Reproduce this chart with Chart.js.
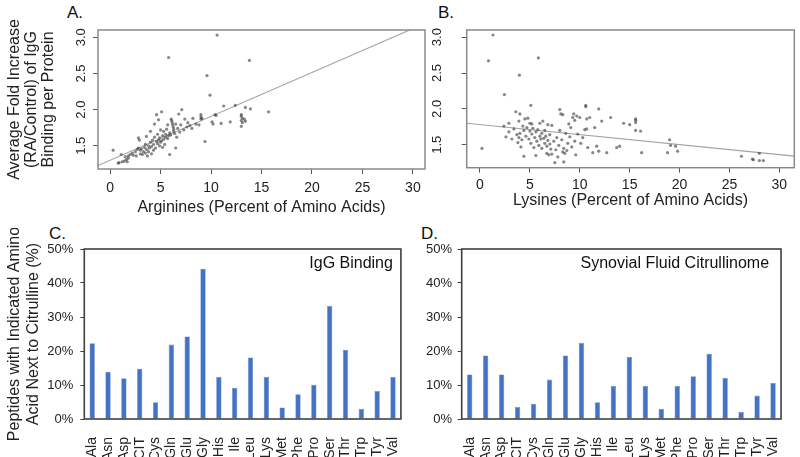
<!DOCTYPE html>
<html>
<head>
<meta charset="utf-8">
<script src="https://cdn.jsdelivr.net/npm/chart.js@4.4.1/dist/chart.umd.min.js"></script>
<style>
  body { margin: 0; background: #fff; width: 800px; height: 457px; position: relative; overflow: hidden;
         font-family: 'Liberation Sans', Arial, sans-serif; }
  canvas { position: absolute; }
  .tag { position: absolute; font-size: 17px; line-height: 1; color: #111; }
</style>
</head>
<body>
<div class="tag" style="left:67px;top:4px">A.</div>
<div class="tag" style="left:438px;top:4px">B.</div>
<div class="tag" style="left:49px;top:225px">C.</div>
<div class="tag" style="left:421px;top:225px">D.</div>

<canvas id="chartA" width="432" height="218" style="left:0;top:0"></canvas>
<canvas id="chartB" width="368" height="218" style="left:432px;top:0"></canvas>
<canvas id="chartC" width="420" height="229" style="left:0;top:228px"></canvas>
<canvas id="chartD" width="380" height="229" style="left:420px;top:228px"></canvas>

<script>
// ---- data ----

// A: arginine content (%) vs average fold increase of IgG binding
const argPoints = [
  [0.3,1.44],[0.8,1.26],[0.9,1.27],[1.1,1.38],[1.2,1.28],[1.4,1.29],[1.5,1.35],[1.6,1.31],[1.7,1.28],[1.8,1.33],
  [1.8,1.36],[2.0,1.38],[2.2,1.40],[2.3,1.37],[2.5,1.42],[2.6,1.36],[2.7,1.45],[2.8,1.47],[2.8,1.61],[2.9,1.58],
  [3.0,1.39],[3.0,1.44],[3.1,1.46],[3.2,1.38],[3.3,1.42],[3.4,1.48],[3.5,1.40],[3.5,1.52],[3.6,1.45],[3.6,1.63],
  [3.7,1.36],[3.8,1.50],[3.8,1.42],[3.9,1.47],[4.0,1.55],[4.0,1.70],[4.1,1.39],[4.1,1.49],[4.2,1.58],[4.3,1.52],
  [4.3,1.44],[4.4,1.62],[4.4,1.80],[4.5,1.47],[4.6,1.56],[4.6,1.93],[4.7,1.53],[4.7,1.66],[4.8,1.58],[4.8,1.86],
  [4.9,1.50],[4.9,1.61],[5.0,1.55],[5.0,1.72],[5.1,1.97],[5.1,1.57],[5.2,1.48],[5.2,1.64],[5.3,1.70],[5.3,1.59],
  [5.4,1.52],[5.5,1.66],[5.5,1.62],[5.6,1.73],[5.7,1.79],[5.7,1.60],[5.8,2.72],[5.8,1.64],[5.9,1.38],[5.9,1.68],
  [6.0,1.65],[6.05,1.87],[6.1,1.85],[6.15,1.82],[6.2,1.79],[6.25,1.76],[6.3,1.73],[6.3,1.70],[6.4,1.67],[6.5,1.47],
  [6.5,1.80],[6.6,1.62],[6.7,1.74],[6.8,1.94],[6.9,1.69],[7.0,1.79],[7.1,2.00],[7.3,1.72],[7.4,1.87],[7.6,1.76],
  [7.7,1.82],[7.9,1.78],[8.1,1.74],[8.2,1.88],[8.5,1.80],[8.8,1.79],[9.0,1.93],[9.0,1.90],[9.0,1.87],[9.1,1.88],
  [9.4,1.56],[9.6,2.47],[9.9,2.20],[10.1,1.83],[10.2,1.80],[10.4,1.93],[10.5,1.92],[10.6,3.03],[11.0,1.81],[11.25,2.05],
  [11.9,1.83],[12.4,2.06],[13.0,1.93],[13.0,1.91],[13.1,1.88],[13.0,1.85],[13.1,1.82],[13.0,1.77],[13.3,1.87],[13.4,1.84],
  [13.4,2.03],[13.9,2.01],[13.8,2.68],[15.7,1.97]
];
const argLine = [[-1.2,1.227],[31.2,3.192]];

// B: lysine content (%) vs the same fold increase
const lysPoints = [
  [0.2,1.45],[1.3,3.03],[0.85,2.67],[5.85,2.71],[3.95,2.47],[2.45,2.20],[5.1,2.05],[2.4,1.76],[2.6,1.61],[2.9,1.68],
  [2.9,1.80],[3.2,1.58],[3.4,1.72],[3.6,1.96],[3.7,1.64],[3.8,1.53],[3.9,1.83],[3.9,1.60],[4.0,1.93],[4.0,1.66],
  [4.1,1.47],[4.2,1.57],[4.3,1.76],[4.4,1.34],[4.4,1.70],[4.5,1.86],[4.6,1.62],[4.7,1.74],[4.8,1.87],[4.9,1.58],
  [5.0,1.69],[5.0,1.80],[5.1,1.52],[5.2,1.65],[5.2,1.79],[5.3,1.73],[5.4,1.46],[5.5,1.60],[5.6,1.68],[5.6,1.35],
  [5.7,1.55],[5.8,1.71],[5.9,1.49],[6.0,1.80],[6.0,1.62],[6.1,1.58],[6.2,1.66],[6.2,1.45],[6.3,1.83],[6.4,1.59],
  [6.5,1.52],[6.5,1.70],[6.6,1.62],[6.7,1.48],[6.7,1.38],[6.8,1.56],[6.8,1.78],[6.9,1.36],[7.0,1.64],[7.0,1.51],
  [7.1,1.44],[7.2,1.77],[7.2,1.37],[7.4,1.55],[7.5,1.25],[7.6,1.43],[7.7,1.60],[7.8,1.33],[7.9,1.49],[8.0,1.99],
  [8.0,1.70],[8.1,1.93],[8.2,1.57],[8.3,1.40],[8.3,1.92],[8.4,1.26],[8.4,1.45],[8.5,1.38],[8.6,1.66],[8.7,1.42],
  [8.8,1.52],[8.9,1.79],[9.0,1.61],[9.1,1.74],[9.2,1.47],[9.3,1.88],[9.4,1.93],[9.5,1.84],[9.5,1.55],[9.6,1.36],
  [9.7,1.90],[9.8,1.65],[10.0,1.88],[10.1,1.52],[10.3,1.60],[10.5,1.71],[10.6,2.05],[10.6,2.03],[10.7,1.86],[10.7,1.72],
  [10.8,1.46],[11.0,1.88],[11.3,1.39],[11.5,1.74],[11.7,1.48],[11.9,2.00],[11.9,1.41],[12.2,1.83],[12.7,1.39],[13.1,1.88],
  [13.7,1.46],[14.0,1.48],[14.4,1.80],[15.0,1.78],[15.6,1.86],[15.6,1.84],[15.6,1.81],[15.6,1.70],[16.1,1.69],[16.2,1.39],
  [18.8,1.39],[19.0,1.57],[19.1,1.49],[19.6,1.48],[19.8,1.41],[26.2,1.34],[27.3,1.30],[27.4,1.29],[28.0,1.38],[28.0,1.28],
  [28.4,1.28]
];
const lysLine = [[-1.33,1.80],[31.5,1.342]];

const pctTicks = [0, 5, 10, 15, 20, 25, 30];
const foldTicks = [1.5, 2.0, 2.5, 3.0];

// C / D: amino acid next to citrulline (% of peptides)
const aminoAcids = ['Ala','Asn','Asp','CIT','Cys','Gln','Glu','Gly','His','Ile',
                    'Leu','Lys','Met','Phe','Pro','Ser','Thr','Trp','Tyr','Val'];
const iggBinding = [22.3, 13.9, 12.0, 14.8, 4.9, 21.9, 24.3, 44.2, 12.4, 9.2,
                    18.1, 12.4, 3.4, 7.3, 10.1, 33.3, 20.4, 3.0, 8.2, 12.4];
const synovial   = [13.1, 18.7, 13.1, 3.5, 4.5, 11.6, 18.7, 22.4, 4.9, 9.7,
                    18.2, 9.7, 3.0, 9.7, 12.6, 19.2, 12.1, 2.1, 6.9, 10.6];
const shareTicks = [0, 10, 20, 30, 40, 50];

// ---- helpers ----
Chart.defaults.font.family = "'Liberation Sans', Arial, sans-serif";
Chart.defaults.color = '#222';

const boxPlugin = {
  id: 'box',
  afterDraw(chart, args, opts) {
    if (!opts.color) return;
    const {ctx, chartArea: a} = chart;
    ctx.save();
    ctx.strokeStyle = opts.color;
    ctx.lineWidth = opts.width;
    ctx.strokeRect(a.left, a.top, a.right - a.left, a.bottom - a.top);
    ctx.restore();
  }
};
const notePlugin = {
  id: 'note',
  afterDraw(chart, args, opts) {
    if (!opts.text) return;
    const {ctx, chartArea: a} = chart;
    ctx.save();
    ctx.font = "16px 'Liberation Sans', Arial, sans-serif";
    ctx.fillStyle = '#111';
    ctx.textAlign = 'right';
    ctx.textBaseline = 'middle';
    ctx.fillText(opts.text, a.right - opts.right, a.top + opts.top);
    ctx.restore();
  }
};
// R style: y tick labels turned to read upwards
const rotTickPlugin = {
  id: 'rotTicks',
  afterDraw(chart, args, opts) {
    if (!opts.offset) return;
    const {ctx, chartArea: a} = chart;
    const y = chart.scales.y;
    ctx.save();
    ctx.font = "13px 'Liberation Sans', Arial, sans-serif";
    ctx.fillStyle = '#222';
    ctx.textAlign = 'center';
    ctx.textBaseline = 'middle';
    y.ticks.forEach(t => {
      ctx.save();
      ctx.translate(a.left - opts.offset, y.getPixelForValue(t.value));
      ctx.rotate(-Math.PI / 2);
      ctx.fillText(t.value.toFixed(1), 0, 0);
      ctx.restore();
    });
    ctx.restore();
  }
};
Chart.register(boxPlugin, notePlugin, rotTickPlugin);

const toXY = arr => arr.map(p => ({x: p[0], y: p[1]}));

function scatterPanel(id, pts, line, xr, yAxisW, xAxisH, padRight, labelOffset, xTickPad, xTitle, yTitle, xTitlePad) {
  const yScale = {
    min: 1.18, max: 3.10,
    afterBuildTicks: s => { s.ticks = foldTicks.map(v => ({value: v})); },
    afterFit: s => { s.width = yAxisW; },
    ticks: { autoSkip: false, color: 'rgba(0,0,0,0)', font: {size: 13} },
    grid: { drawOnChartArea: false, tickLength: 5, color: '#555' },
    border: { display: false }
  };
  if (yTitle) {
    yScale.title = { display: true, text: yTitle, color: '#222',
                     font: {size: 16, lineHeight: 1.05}, padding: {top: 6.5, bottom: 0} };
  }
  return new Chart(document.getElementById(id), {
    type: 'scatter',
    data: {
      datasets: [
        { data: toXY(pts), pointRadius: 1.6, pointBorderWidth: 0,
          pointBackgroundColor: 'rgba(55,55,55,0.6)' },
        { type: 'line', data: toXY(line), borderColor: '#a3a3a3', borderWidth: 1.1,
          pointRadius: 0, fill: false }
      ]
    },
    options: {
      responsive: false, animation: false,
      layout: { padding: {top: 30, right: padRight, bottom: 0, left: 0} },
      plugins: { legend: {display: false}, tooltip: {enabled: false},
                 box: {color: '#8a8a8a', width: 1.5},
                 rotTicks: {offset: labelOffset} },
      scales: {
        x: {
          type: 'linear', min: xr[0], max: xr[1],
          afterBuildTicks: s => { s.ticks = pctTicks.map(v => ({value: v})); },
          afterFit: s => { s.height = xAxisH; },
          ticks: { padding: xTickPad, autoSkip: false, maxRotation: 0, font: {size: 14}, color: '#222' },
          grid: { drawOnChartArea: false, tickLength: 5, color: '#555' },
          border: { display: false },
          title: { display: true, text: xTitle, color: '#222', font: {size: 16},
                   padding: {top: 0, bottom: xTitlePad} }
        },
        y: yScale
      }
    }
  });
}

scatterPanel('chartA', argPoints, argLine, [-1.2, 31.2], 98, 49, 7, 17, 6,
  'Arginines (Percent of Amino Acids)',
  ['Average Fold Increase', '(RA/Control) of IgG', 'Binding per Protein'], 1);
scatterPanel('chartB', lysPoints, lysLine, [-1.33, 31.5], 34.7, 50.3, 5.7, 29, 4,
  'Lysines (Percent of Amino Acids)', null, 8);

function barPanel(id, values, note, noteRight, yAxisW, padRight, yLabelPad, yTitle) {
  const yScale = {
    min: 0, max: 50,
    afterBuildTicks: s => { s.ticks = shareTicks.map(v => ({value: v})); },
    afterFit: s => { s.width = yAxisW; },
    ticks: { padding: yLabelPad, autoSkip: false, font: {size: 13}, color: '#222',
             callback: v => v + '%' },
    grid: { drawOnChartArea: false, tickLength: 4, color: '#404040' },
    border: { display: false }
  };
  if (yTitle) {
    yScale.title = { display: true, text: yTitle, color: '#222',
                     font: {size: 16, lineHeight: 1.19}, padding: {top: 5.5, bottom: 0} };
  }
  return new Chart(document.getElementById(id), {
    type: 'bar',
    data: {
      labels: aminoAcids,
      datasets: [{ data: values, backgroundColor: '#4472C4', borderColor: '#6f90d0',
                   borderWidth: 0.6, barPercentage: 0.34, categoryPercentage: 1 }]
    },
    options: {
      responsive: false, animation: false,
      layout: { padding: {top: 21, right: padRight, bottom: 0, left: 0} },
      plugins: { legend: {display: false}, tooltip: {enabled: false},
                 box: {color: '#404040', width: 1.6},
                 note: {text: note, right: noteRight, top: 15} },
      scales: {
        x: {
          afterFit: s => { s.height = 38; },
          ticks: { minRotation: 90, maxRotation: 90, padding: 10, autoSkip: false,
                   font: {size: 14}, color: '#222' },
          grid: { display: false },
          border: { display: false }
        },
        y: yScale
      }
    }
  });
}

barPanel('chartC', iggBinding, 'IgG Binding', 8, 84.3, 8.3, 7,
  ['Peptides with Indicated Amino', 'Acid Next to Citrulline (%)']);
barPanel('chartD', synovial, 'Synovial Fluid Citrullinome', 12, 41.7, 5.7, 5.7, null);
</script>
</body>
</html>
